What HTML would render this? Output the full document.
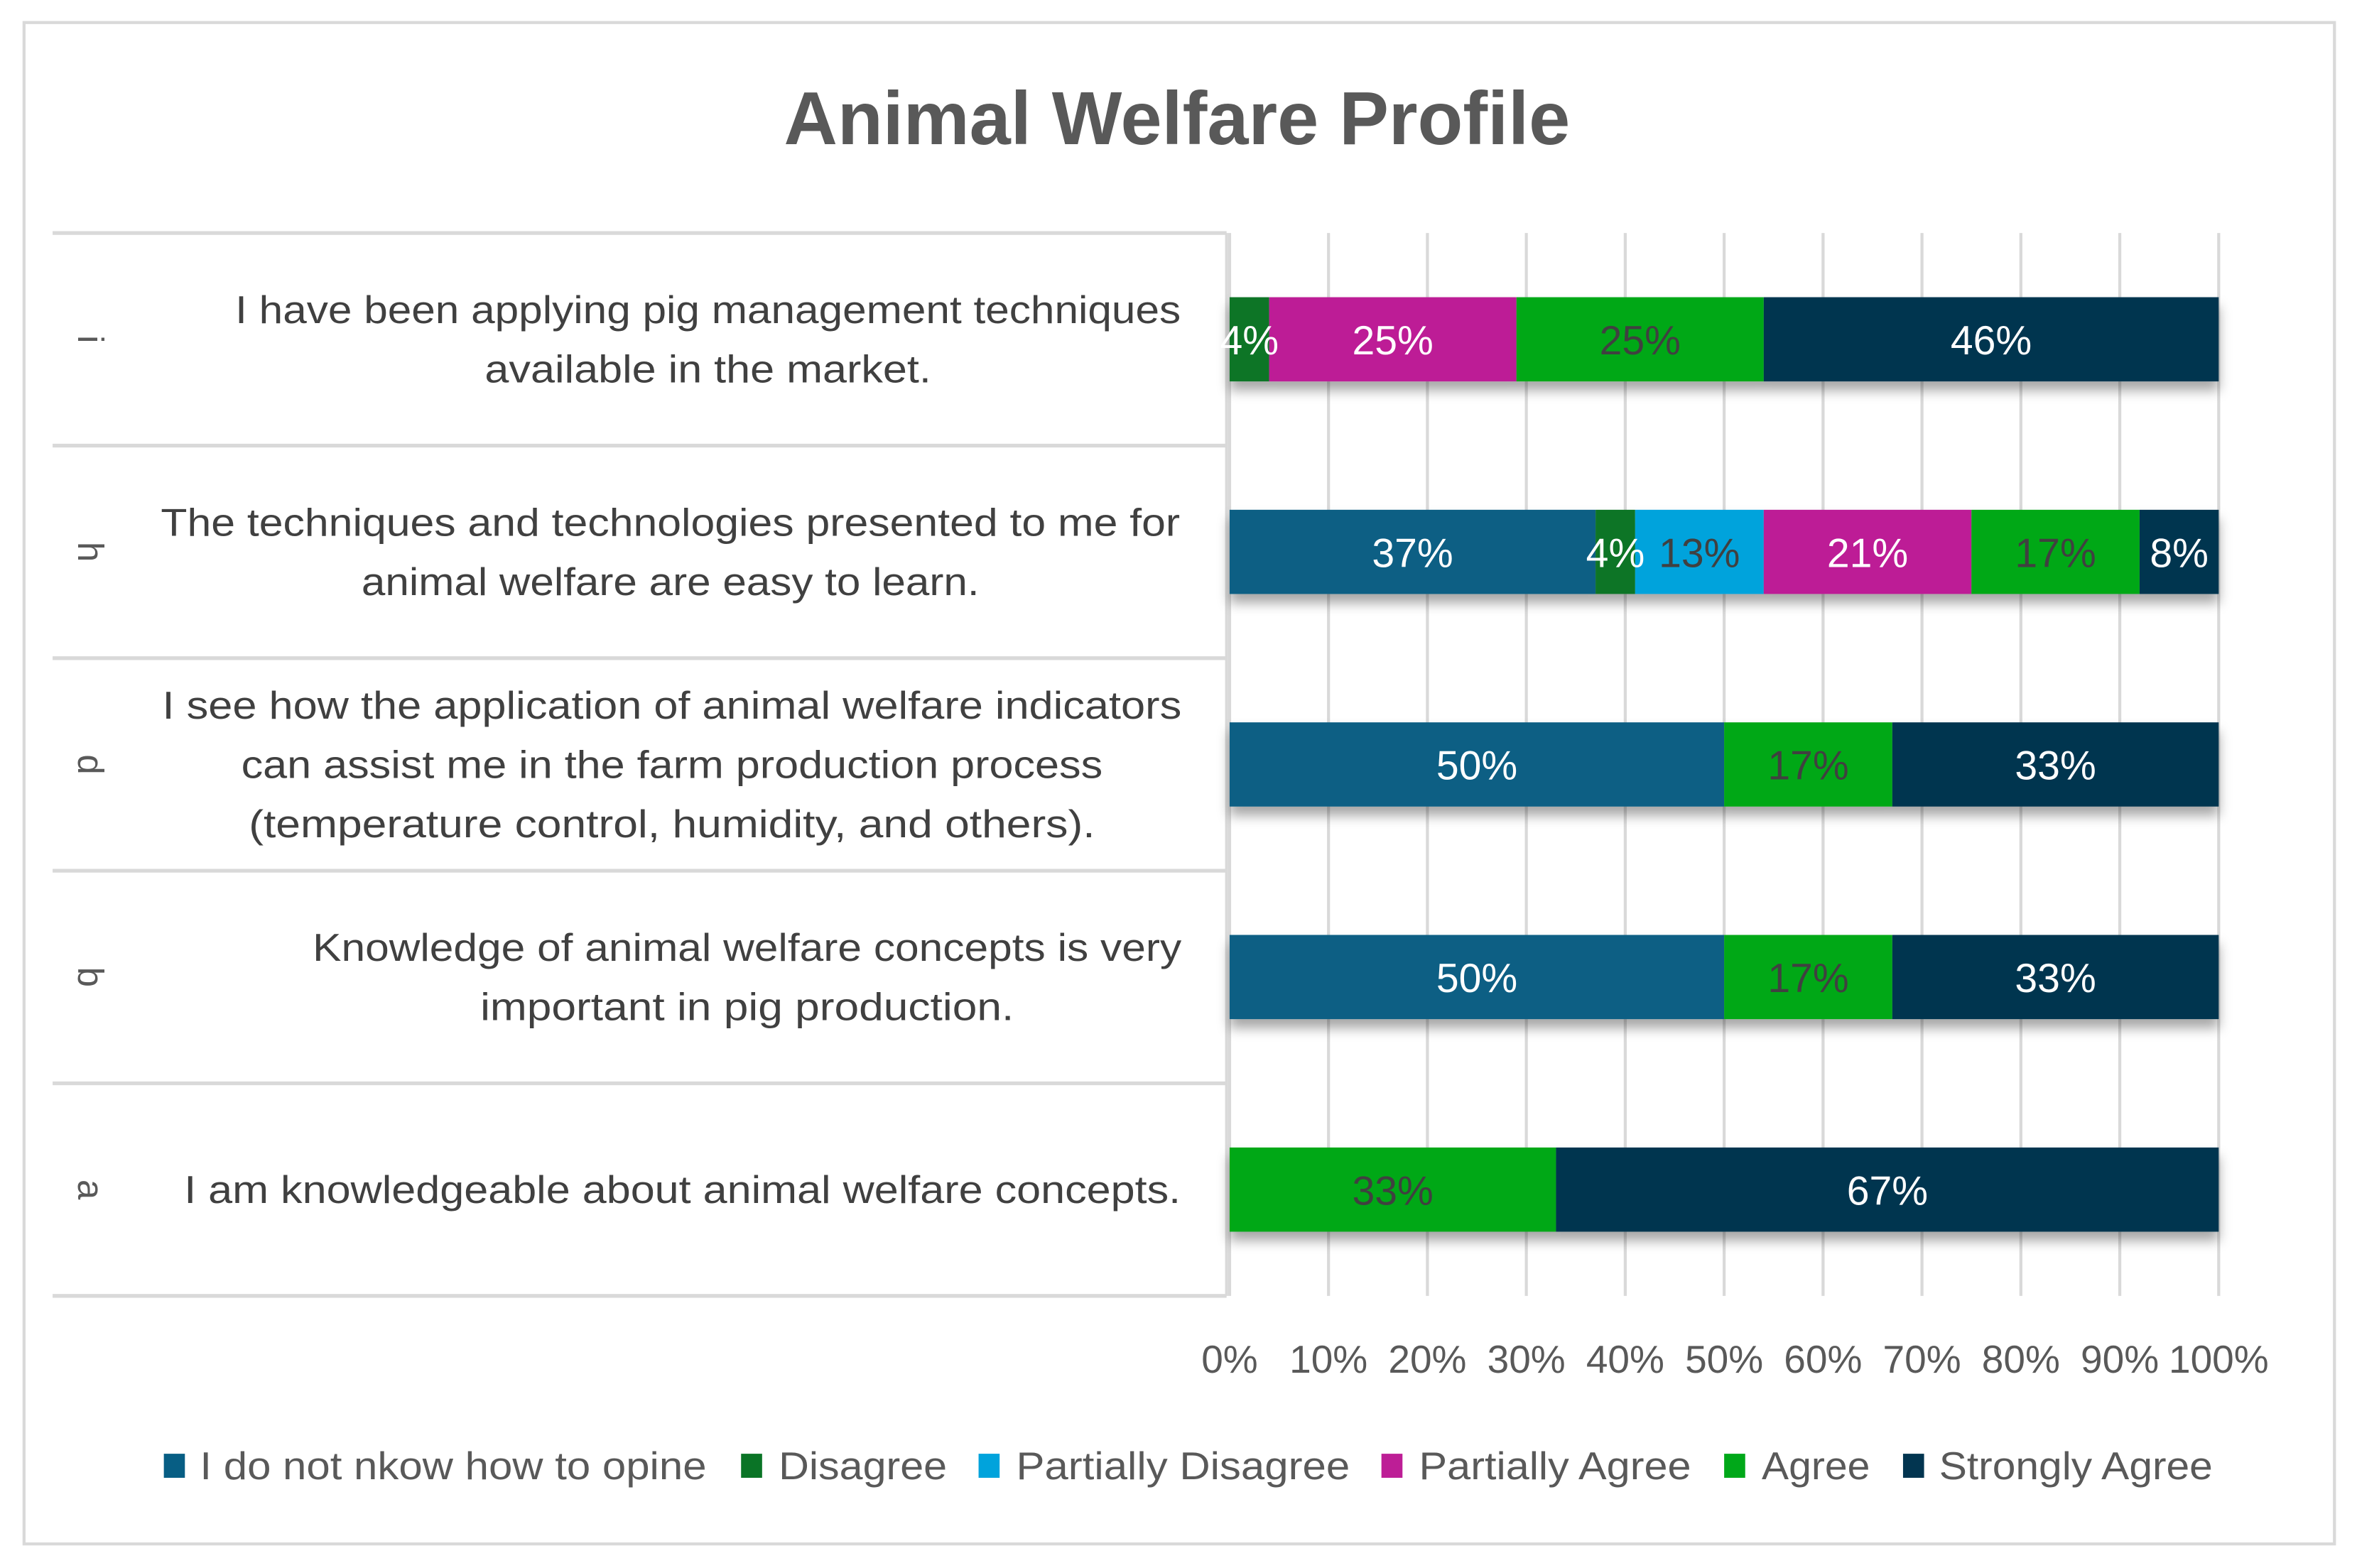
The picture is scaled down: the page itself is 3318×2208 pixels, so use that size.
<!DOCTYPE html>
<html><head><meta charset="utf-8"><style>
html,body{margin:0;padding:0;background:#fff;}
svg{display:block;}
text{font-family:"Liberation Sans",sans-serif;}
</style></head><body>
<svg id="chart" width="3318" height="2208" viewBox="0 0 1568 1043" preserveAspectRatio="none" xmlns="http://www.w3.org/2000/svg">
<defs>
<filter id="sh" x="-5%" y="-20%" width="110%" height="160%"><feDropShadow dx="0" dy="6" stdDeviation="4" flood-color="#000" flood-opacity="0.35"/></filter>
</defs>
<rect x="16" y="15" width="1537" height="1012" fill="#fff" stroke="#d9d9d9" stroke-width="2"/>
<text x="783" y="96" text-anchor="middle" font-size="50" font-weight="bold" fill="#595959" textLength="523" lengthAdjust="spacingAndGlyphs">Animal Welfare Profile</text>
<g id="grid"></g>
<g id="table"></g>
<g id="bars"></g>
<g id="ticks"></g>
<g id="legend"></g>
</svg>
<script>
const categories = ['i','h','d','b','a'];
const labelLines = [
 ['I have been applying pig management techniques','available in the market.'],
 ['The techniques and technologies presented to me for','animal welfare are easy to learn.'],
 ['I see how the application of animal welfare indicators','can assist me in the farm production process','(temperature control, humidity, and others).'],
 ['Knowledge of animal welfare concepts is very','important in pig production.'],
 ['I am knowledgeable about animal welfare concepts.']
];
const seriesNames = ['I do not nkow how to opine','Disagree','Partially Disagree','Partially Agree','Agree','Strongly Agree'];
const unknownVals = [0,37,50,50,0];
const disagreeVals = [4,4,0,0,0];
const partDisVals = [0,13,0,0,0];
const partAgrVals = [25,21,0,0,0];
const agreeVals = [25,17,17,17,33];
const strongVals = [46,8,33,33,67];
const tickLabels = ['0%','10%','20%','30%','40%','50%','60%','70%','80%','90%','100%'];
const tickValues = [0,10,20,30,40,50,60,70,80,90,100];

const seriesVals = [unknownVals,disagreeVals,partDisVals,partAgrVals,agreeVals,strongVals];
const colors = ['#075e84','#0a7426','#00a3dc','#bd1e96','#00a819','#023550'];
const labelColors = ['#fff','#fff','#404040','#fff','#404040','#fff'];
const NS='http://www.w3.org/2000/svg';
const X0=818, X1=1476, TOP=155, ROWH=141.4, BARH=56;
const xs = v => X0 + (X1-X0)*v/100;
const rowCenter = i => TOP + ROWH*i + ROWH/2;
function mk(tag, parent, attrs){const e=document.createElementNS(NS,tag);for(const k in attrs)e.setAttribute(k,attrs[k]);parent.appendChild(e);return e;}
const grid=document.getElementById('grid'), table=document.getElementById('table'), bars=document.getElementById('bars'), ticks=document.getElementById('ticks'), legend=document.getElementById('legend');
// gridlines & ticks
tickValues.forEach((v,i)=>{
  const l=mk('line',grid,{x1:xs(v),x2:xs(v),y1:TOP,y2:TOP+ROWH*categories.length,stroke:'#d9d9d9','stroke-width':2});
  
  
  const t=mk('text',ticks,{x:xs(v),y:913,'text-anchor':'middle','font-size':26,fill:'#595959'});
  
  
  t.textContent=tickLabels[i];
});
// table rows
const lineWidths=[[629,297],[678,411],[678,573,563],[578,355],[663]];
const blockCenter=[471,446,447,497,454];
for(let r=0;r<=categories.length;r++){
  const l=mk('line',table,{x1:35,x2:816,y1:TOP+ROWH*r,y2:TOP+ROWH*r,stroke:'#d9d9d9','stroke-width':2.5});
  
  
}
const vl=mk('line',table,{x1:816,x2:816,y1:TOP,y2:TOP+ROWH*categories.length,stroke:'#d9d9d9','stroke-width':2});


categories.forEach((c,i)=>{
  const cy=rowCenter(i);
  const g=mk('g',table,{transform:`translate(60,${cy}) rotate(90)`});
  const t=mk('text',g,{x:0,y:8,'text-anchor':'middle','font-size':24,fill:'#595959'});
  
  
  t.textContent=c;
  const lines=labelLines[i], n=lines.length;
  lines.forEach((ln,j)=>{
    const y=cy+(j-(n-1)/2)*39.5+9;
    const tt=mk('text',table,{x:blockCenter[i],y:y,'text-anchor':'middle','font-size':26,fill:'#404040',textLength:lineWidths[i][j],lengthAdjust:'spacingAndGlyphs'});
    
    
    tt.textContent=ln;
  });
});
// bars
categories.forEach((c,i)=>{
  const cy=rowCenter(i);
  const g=mk('g',bars,{filter:'url(#sh)'});
  
  
  let acc=0;
  seriesVals.forEach((vals,s)=>{
    const v=vals[i]; if(!v) return;
    const r=mk('rect',g,{x:xs(acc),y:cy-BARH/2,width:xs(acc+v)-xs(acc),height:BARH,fill:colors[s]});
    
    
    acc+=v;
  });
  acc=0;
  seriesVals.forEach((vals,s)=>{
    const v=vals[i]; if(!v) return;
    const t=mk('text',bars,{x:(xs(acc)+xs(acc+v))/2,y:cy+10,'text-anchor':'middle','font-size':27,fill:labelColors[s]});
    
    
    t.textContent=v+'%';
    acc+=v;
  });
});
// legend
const legSq=[109,493,651,919,1147,1266], legTx=[[133,337],[518,112],[676,222],[944,181],[1172,72],[1290,182]];
seriesNames.forEach((nm,s)=>{
  const g=mk('g',legend,{});
  
  
  mk('rect',g,{x:legSq[s],y:967,width:14,height:16,fill:colors[s]});
  const t=mk('text',g,{x:legTx[s][0],y:984,'font-size':26,fill:'#595959',textLength:legTx[s][1],lengthAdjust:'spacingAndGlyphs'});
  t.textContent=nm;
});
</script>
</body></html>
